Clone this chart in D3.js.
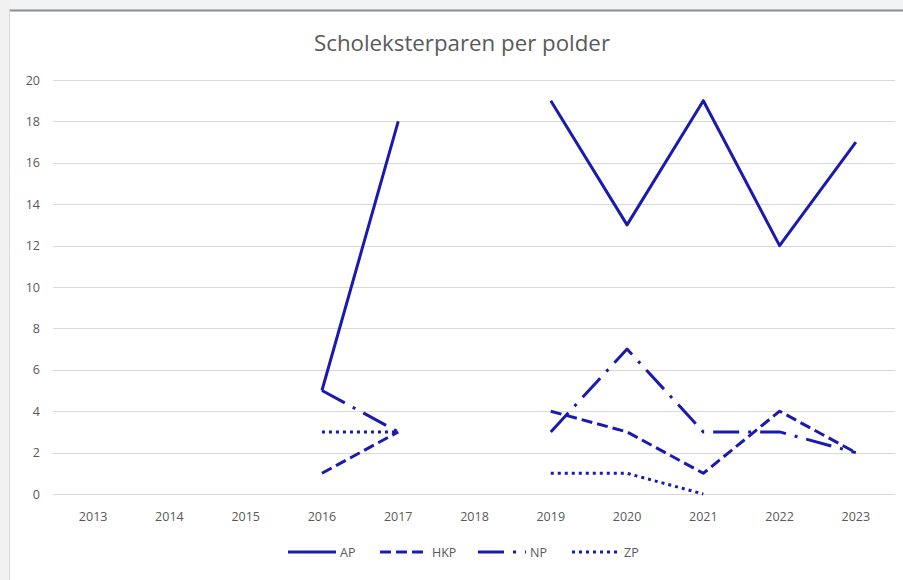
<!DOCTYPE html>
<html><head><meta charset="utf-8">
<script src="https://cdn.jsdelivr.net/npm/d3@7/dist/d3.min.js"></script>
<style>body{margin:0;background:#fff;}svg{display:block;}</style>
</head><body>
<script>
const years = ["2013","2014","2015","2016","2017","2018","2019","2020","2021","2022","2023"];
const AP  = [null,null,null,5,18,null,19,13,19,12,17];
const HKP = [null,null,null,1,3,null,4,3,1,4,2];
const NP  = [null,null,null,5,3,null,3,7,3,3,2];
const ZP  = [null,null,null,3,3,null,1,1,0,null,null];
const yTicks = [0,2,4,6,8,10,12,14,16,18,20];
const title = "Scholeksterparen per polder";
const seriesNames = ["AP","HKP","NP","ZP"];

const series = [
  {name:"AP", values:AP, dash:null},
  {name:"HKP", values:HKP, dash:"11,5"},
  {name:"NP", values:NP, dash:"26,9,3,9"},
  {name:"ZP", values:ZP, dash:"3,4"}
];

const W=903,H=580;
const color="#1a1ab0";
const font="'Open Sans', sans-serif";
const svg=d3.select("body").append("svg").attr("width",W).attr("height",H);

// frame
svg.append("rect").attr("x",0).attr("y",0).attr("width",W).attr("height",10).attr("fill","#f3f3f3");
svg.append("rect").attr("x",0).attr("y",0).attr("width",9).attr("height",H).attr("fill","#f1f1f1");
svg.append("line").attr("x1",9).attr("x2",W).attr("y1",10.5).attr("y2",10.5).attr("stroke","#8a9096").attr("stroke-width",2);
svg.append("line").attr("x1",9.5).attr("x2",9.5).attr("y1",10).attr("y2",H).attr("stroke","#d9d9d9").attr("stroke-width",1);

const x=d3.scaleBand().domain(years).range([55,894]);
const y=d3.scaleLinear().domain([0,20]).range([494,80]);

svg.append("text").attr("x",462).attr("y",51).attr("text-anchor","middle")
  .attr("font-family",font).attr("font-size",21).attr("fill","#595959")
  .attr("textLength",296).attr("lengthAdjust","spacingAndGlyphs").text(title);

// grid
const grid=svg.append("g");
grid.selectAll("line").data(yTicks).join("line")
  .attr("x1",53).attr("x2",895).attr("y1",d=>Math.round(y(d))+0.5).attr("y2",d=>Math.round(y(d))+0.5)
  .attr("stroke","#d9d9d9").attr("stroke-width",1);

// y axis
const yAxis=svg.append("g").attr("transform","translate(45,0)")
  .call(d3.axisLeft(y).tickValues(yTicks).tickSize(0).tickPadding(5));
yAxis.select(".domain").remove();
yAxis.selectAll("text").attr("font-family",font).attr("font-size",12.5).attr("fill","#595959");

// x axis
const xAxis=svg.append("g").attr("transform","translate(0,504)")
  .call(d3.axisBottom(x).tickSize(0).tickPadding(8));
xAxis.select(".domain").remove();
xAxis.selectAll("text").attr("font-family",font).attr("font-size",12.5).attr("fill","#595959");

const line=d3.line().defined(d=>d.v!==null).x(d=>x(d.k)+x.bandwidth()/2).y(d=>y(d.v));
series.forEach(s=>{
  const data=years.map((k,i)=>({k,v:s.values[i]}));
  svg.append("path").datum(data).attr("d",line).attr("fill","none")
    .attr("stroke",color).attr("stroke-width",3).attr("stroke-linejoin","round")
    .attr("stroke-dasharray",s.dash);
});

// legend
const legX=[288,380,478,572];
const lg=svg.append("g");
series.forEach((s,i)=>{
  const g=lg.append("g");
  g.append("line").attr("x1",legX[i]).attr("x2",legX[i]+48).attr("y1",552).attr("y2",552)
    .attr("stroke",color).attr("stroke-width",3).attr("stroke-dasharray",s.dash);
  g.append("text").attr("x",legX[i]+52).attr("y",556.5).attr("font-family",font)
    .attr("font-size",12.5).attr("fill","#595959").text(seriesNames[i]);
});
</script>
</body></html>
